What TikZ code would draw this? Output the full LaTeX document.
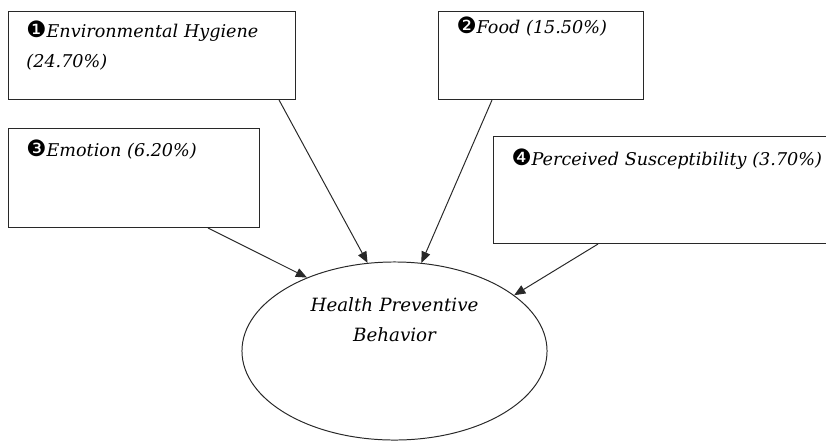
\documentclass[tikz,border=0pt]{standalone}
\usepackage{fontspec}
\setmainfont{DejaVu Serif}
\newfontfamily\dingfont{DejaVu Sans}
\usetikzlibrary{shapes.geometric, arrows.meta}
\definecolor{edgegray}{RGB}{40, 40, 40}
\newcommand{\numdot}[1]{{\dingfont\upshape\fontsize{16}{21}\selectfont #1}}

\begin{document}
\begin{tikzpicture}[x=0.025cm, y=-0.025cm,
  factorbox/.style={draw=edgegray, line width=0.7pt, anchor=north west, inner xsep=0.45cm, inner ysep=0pt,
    align=left, font=\fontsize{12.5}{21}\selectfont\itshape},
  outcome/.style={draw=edgegray, line width=0.7pt, ellipse, inner sep=0pt, minimum width=7.625cm, minimum height=4.45cm,
    text width=5cm, align=center, font=\fontsize{13}{21}\selectfont\itshape},
  effect/.style={-{Triangle[length=2.8mm, width=2.3mm]}, edgegray, line width=0.7pt}]
  \useasboundingbox (0,0) rectangle (826,441);

  % Factors
  \node[factorbox, text width=6.275cm, text height=0.65cm, text depth=1.55cm] (env) at (8,11)
    {\numdot{❶}Environmental Hygiene\\(24.70\%)};
  \node[factorbox, text width=4.225cm, text height=0.55cm, text depth=1.65cm] (food) at (438,11)
    {\numdot{❷}Food (15.50\%)};
  \node[factorbox, text width=5.375cm, text height=0.7cm, text depth=1.775cm] (emo) at (8,128)
    {\numdot{❸}Emotion (6.20\%)};
  \node[factorbox, text width=8cm, text height=0.725cm, text depth=1.95cm] (sus) at (493,136)
    {\numdot{❹}Perceived Susceptibility (3.70\%)};

  % Outcome
  \node[outcome, text height=0.3cm, text depth=2.25cm] (hpb) at (394.5,351)
    {Health Preventive\\Behavior};

  % Effects
  \draw[effect] ([xshift=-0.425cm]env.south east) -- (hpb.107);
  \draw[effect] ([xshift=1.35cm]food.south west) -- (hpb.73);
  \draw[effect] ([xshift=-1.3cm]emo.south east) -- (hpb.140);
  \draw[effect] ([xshift=2.625cm]sus.south west) -- (hpb.25);
\end{tikzpicture}
\end{document}
